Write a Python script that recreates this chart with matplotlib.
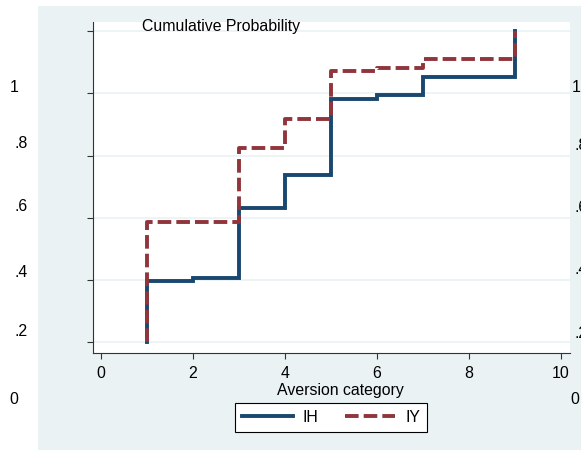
import matplotlib
matplotlib.use("Agg")
import matplotlib.pyplot as plt
from matplotlib.patches import Rectangle

plt.rcParams["font.family"] = ["Liberation Sans", "DejaVu Sans"]

# aversion categories and cumulative shares
categories = [1, 2, 3, 4, 5, 6, 7, 8, 9]
ih_cum = [0.198, 0.205, 0.433, 0.538, 0.783, 0.794, 0.851, 0.851, 1.0]
iy_cum = [0.387, 0.387, 0.623, 0.716, 0.871, 0.880, 0.910, 0.910, 1.0]
x_ticks = [0, 2, 4, 6, 8, 10]
y_ticks = [0, 0.2, 0.4, 0.6, 0.8, 1.0]
outer_labels = ["1", ".8", ".6", ".4", ".2", "0"]

W, H = 581, 450
NAVY = "#1a476f"
MAROON = "#90353b"
BG = "#eaf2f3"
FS = 11.4


def fx(px):
    return px / W


def fy(py):
    return 1 - py / H


fig = plt.figure(figsize=(W / 100, H / 100), dpi=100)
fig.patch.set_facecolor("white")
bg = Rectangle((fx(38), 0), 1 - fx(38), fy(6), transform=fig.transFigure,
               facecolor=BG, edgecolor="none", zorder=-5)
fig.add_artist(bg)

ax = fig.add_axes([fx(92.7), fy(352.5), fx(569.5) - fx(92.7), fy(22) - fy(352.5)])
ax.set_zorder(2)
ax.set_facecolor("white")
ax.set_xlim(-0.18, 10.185)
ax.set_ylim(-0.0328, 1.029)

ax.plot([1] + categories, [0] + ih_cum, drawstyle="steps-post", color=NAVY, lw=2.8,
        solid_joinstyle="miter", label="IH")
ax.plot([1] + categories, [0] + iy_cum, drawstyle="steps-post", color=MAROON, lw=2.8,
        dashes=(3.5, 1.3), dash_capstyle="butt", label="IY")

for s in ["top", "right"]:
    ax.spines[s].set_visible(False)
for s in ["left", "bottom"]:
    ax.spines[s].set_linewidth(0.8)
    ax.spines[s].set_color("#333333")

ax.set_xticks(x_ticks)
ax.set_xticklabels([str(v) for v in x_ticks], fontsize=FS)
ax.set_yticks(y_ticks)
ax.set_yticklabels([])
ax.tick_params(axis="both", length=4.3, width=0.8, color="#333333", pad=5.5)
ax.yaxis.grid(True, color=BG, lw=1.2)
ax.set_axisbelow(True)

fig.text(fx(221), fy(27), "Cumulative Probability", fontsize=FS, ha="center", va="center",
         zorder=5)
fig.text(fx(340), fy(390), "Aversion category", fontsize=FS, ha="center", va="center")

# labels of the outer graph on both sides
left_pos = [(14.5, 87), (21.5, 144), (21.5, 206), (21.5, 272.5), (21.5, 332), (14, 399.5)]
right_pos = [(571.5, 87), (574.5, 146), (574.5, 208), (574.5, 270), (574.5, 333), (570, 400)]
for lab, (x, y) in zip(outer_labels, left_pos):
    fig.text(fx(x), fy(y), lab, fontsize=FS, ha="center", va="center")
for lab, (x, y) in zip(outer_labels, right_pos):
    fig.text(fx(x), fy(y), lab, fontsize=FS, ha="left", va="center")

leg = fig.legend(loc="center", bbox_to_anchor=(fx(331), fy(417.5)), ncol=2, fontsize=FS,
                 handlelength=3.2, handletextpad=0.63, columnspacing=1.65,
                 borderpad=0.42, fancybox=False, framealpha=1, edgecolor="black")
leg.get_frame().set_linewidth(0.8)

fig.savefig("out.png", dpi=100)
